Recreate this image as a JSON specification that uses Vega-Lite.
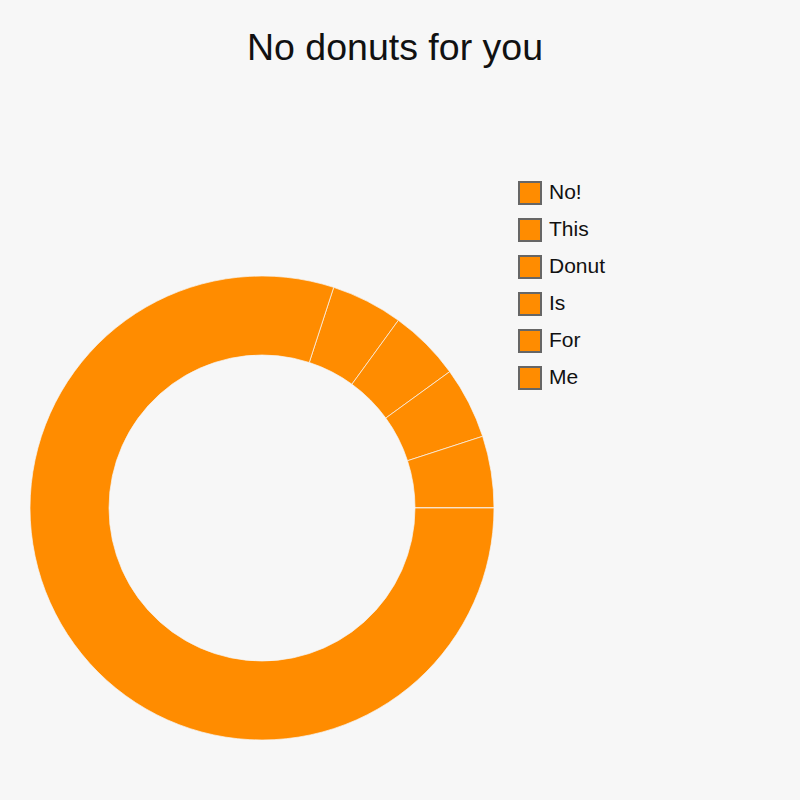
{
  "$schema": "https://vega.github.io/schema/vega-lite/v6.json",
  "width": 464,
  "height": 464,
  "autosize": {"type": "none"},
  "padding": {"left": 30, "top": 276, "right": 306, "bottom": 60},
  "background": "#f7f7f7",
  "config": {"view": {"stroke": null}, "font": "Liberation Sans"},
  "title": {
    "text": "No donuts for you",
    "fontSize": 37.5,
    "fontWeight": "normal",
    "color": "#111111",
    "anchor": "middle",
    "frame": "group",
    "offset": 114,
    "dx": 133
  },
  "data": {
    "values": [
      {"label": "No!", "value": 1, "idx": 1},
      {"label": "This", "value": 1, "idx": 2},
      {"label": "Donut", "value": 1, "idx": 3},
      {"label": "Is", "value": 1, "idx": 4},
      {"label": "For", "value": 0, "idx": 5},
      {"label": "Me", "value": 16, "idx": 6}
    ]
  },
  "mark": {"type": "arc", "innerRadius": 153, "outerRadius": 232, "stroke": "#f7f7f7", "strokeWidth": 0.7},
  "encoding": {
    "theta": {
      "field": "value",
      "type": "quantitative",
      "stack": true,
      "scale": {"range": [0.31416, 6.59734]}
    },
    "order": {"field": "idx", "type": "quantitative"},
    "color": {
      "field": "label",
      "type": "nominal",
      "sort": ["No!", "This", "Donut", "Is", "For", "Me"],
      "scale": {"range": ["#ff8c00", "#ff8c00", "#ff8c00", "#ff8c00", "#ff8c00", "#ff8c00"]},
      "legend": {
        "title": null,
        "orient": "none",
        "legendX": 488,
        "legendY": -95,
        "symbolType": "square",
        "symbolSize": 484,
        "symbolStrokeColor": "#666666",
        "symbolStrokeWidth": 2,
        "labelFontSize": 21,
        "labelColor": "#111111",
        "labelOffset": 7,
        "rowPadding": 7
      }
    }
  }
}
